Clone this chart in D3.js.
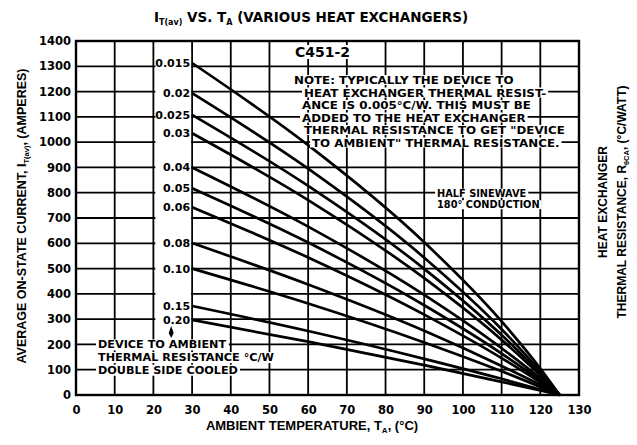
<!DOCTYPE html>
<html><head><meta charset="utf-8">
<script src="https://cdn.jsdelivr.net/npm/d3@7"></script>
<style>body{margin:0;background:#fff}svg{display:block}</style>
</head><body>
<svg id="c" width="637" height="445"></svg>
<script>
// ambient temperature sample points (°C)
const temperatures = [30, 60, 90, 110, 120, 125];
// heat exchanger thermal resistance (°C/W) labels
const resistanceLabels = ["0.015","0.02","0.025","0.03","0.04","0.05","0.06","0.08","0.10","0.15","0.20"];
// average on-state current (A) for each resistance at the temperatures above
const current015 = [1313, 988, 604, 291, 105, 0];
const current020 = [1194, 895, 543, 260, 93, 0];
const current025 = [1108, 827, 499, 237, 85, 0];
const current030 = [1035, 771, 462, 218, 77, 0];
const current040 = [900, 666, 396, 185, 65, 0];
const current050 = [818, 603, 355, 164, 57, 0];
const current060 = [743, 544, 318, 146, 50, 0];
const current080 = [601, 437, 254, 115, 40, 0];
const current100 = [500, 362, 208, 94, 32, 0];
const current150 = [352, 253, 143, 64, 22, 0];
const current200 = [297, 211, 118, 52, 18, 0];
const seriesValues = [current015,current020,current025,current030,current040,current050,current060,current080,current100,current150,current200];
const xTickValues = [0,10,20,30,40,50,60,70,80,90,100,110,120,130];
const yTickValues = [0,100,200,300,400,500,600,700,800,900,1000,1100,1200,1300,1400];

const noteLines = [
  "NOTE: TYPICALLY THE DEVICE TO",
  "HEAT EXCHANGER THERMAL RESIST-",
  "ANCE IS 0.005°C/W.  THIS MUST BE",
  "ADDED TO THE HEAT EXCHANGER",
  "THERMAL RESISTANCE TO GET \"DEVICE",
  "TO AMBIENT\" THERMAL RESISTANCE."
];
const noteIndent = [0, 10, 8, 8, 10, 18];
const conductionLines = ["HALF SINEWAVE", "180° CONDUCTION"];
const deviceLines = ["DEVICE TO AMBIENT", "THERMAL RESISTANCE °C/W", "DOUBLE SIDE COOLED"];
const deviceLineLevels = [200, 150, 100];

const svg = d3.select("#c");
const M = {l: 76, r: 579, t: 41, b: 395};
const x = d3.scaleLinear().domain([0, 130]).range([M.l, M.r]);
const y = d3.scaleLinear().domain([0, 1400]).range([M.b, M.t]);
const BOLD = "'DejaVu Sans', sans-serif";
const PLAIN = "'Liberation Sans', Arial, sans-serif";

// grid
const grid = svg.append("g").attr("stroke", "#000").attr("stroke-width", 1.8);
grid.selectAll("line.v").data(xTickValues).join("line").attr("class","v")
  .attr("x1", d => x(d)).attr("x2", d => x(d)).attr("y1", M.t).attr("y2", M.b);
grid.selectAll("line.h").data(yTickValues).join("line").attr("class","h")
  .attr("x1", M.l).attr("x2", M.r).attr("y1", d => y(d)).attr("y2", d => y(d));

// white column behind resistance labels
svg.append("rect").attr("x", x(20) + 2).attr("width", x(30) - x(20) - 3)
  .attr("y", y(1360)).attr("height", y(230) - y(1360)).attr("fill", "#fff");

// frame
svg.append("rect").attr("x", M.l).attr("y", M.t).attr("width", M.r - M.l).attr("height", M.b - M.t)
  .attr("fill", "none").attr("stroke", "#000").attr("stroke-width", 2.4);

// axes
const gy = svg.append("g").attr("transform", `translate(${M.l},0)`)
  .call(d3.axisLeft(y).tickValues(yTickValues).tickSize(0).tickPadding(5).tickFormat(d3.format("d")));
gy.select(".domain").remove();
gy.selectAll("text").attr("font-family", BOLD).attr("font-weight", "bold").attr("font-size", 11.5).attr("fill","#000");

const gx = svg.append("g").attr("transform", `translate(0,${M.b})`)
  .call(d3.axisBottom(x).tickValues(xTickValues).tickSize(0).tickPadding(11).tickFormat(d3.format("d")));
gx.select(".domain").remove();
gx.selectAll("text").attr("font-family", BOLD).attr("font-weight", "bold").attr("font-size", 11.5).attr("fill","#000");

// curves
const data = seriesValues.map((vals, i) => ({label: resistanceLabels[i], pts: vals.map((v, j) => ({t: temperatures[j], v}))}));
const line = d3.line().x(d => x(d.t)).y(d => y(d.v)).curve(d3.curveMonotoneX);
svg.append("g").selectAll("path").data(data).join("path")
  .attr("d", d => line(d.pts)).attr("fill", "none").attr("stroke", "#000").attr("stroke-width", 2.7);

// resistance labels
svg.append("g").selectAll("text").data(data).join("text")
  .attr("x", x(30) - 2).attr("y", d => y(d.pts[0].v)).attr("dy", "0.36em")
  .attr("text-anchor", "end").attr("font-family", BOLD).attr("font-weight", "bold").attr("font-size", 11)
  .text(d => d.label);

// small arrow below 0.20
const ax = x(24.6), ay = y(245);
svg.append("path").attr("d", `M${ax},${ay-7}L${ax+2.5},${ay}L${ax},${ay+5}L${ax-2.5},${ay}Z`).attr("fill", "#000");

// white boxes behind annotation text
function boxed(textSel, padX, padY){
  textSel.each(function(){
    const b = this.getBBox();
    d3.select(this.parentNode).insert("rect", () => this)
      .attr("x", b.x - padX).attr("y", b.y + padY).attr("width", b.width + 2*padX).attr("height", b.height - 2*padY)
      .attr("fill", "#fff");
  });
  return textSel;
}
// widen glyphs horizontally (condensed-height, wide lettering like the original)
function widen(textSel, factor){
  textSel.each(function(){
    const len = this.getComputedTextLength();
    d3.select(this).attr("textLength", len * factor).attr("lengthAdjust", "spacingAndGlyphs");
  });
  return textSel;
}

const ann = svg.append("g");
// part number
boxed(ann.append("text").attr("x", 295).attr("y", 57).attr("font-family", BOLD).attr("font-weight","bold").attr("font-size", 14).text("C451-2"), 2, 1);

// note
boxed(widen(ann.append("g").selectAll("text").data(noteLines).join("text")
  .attr("x", (d,i) => 294 + noteIndent[i]).attr("y", (d,i) => 84 + i*12.5)
  .attr("font-family", BOLD).attr("font-weight","bold").attr("font-size", 10.6)
  .text(d => d), 1.12), 2, 1);

// half sinewave
boxed(ann.append("g").selectAll("text").data(conductionLines).join("text")
  .attr("x", 437).attr("y", (d,i) => y(800) + 4 + i*11.5)
  .attr("font-family", BOLD).attr("font-weight","bold").attr("font-size", 9.8)
  .text(d => d), 2, 1);

// device to ambient
boxed(widen(ann.append("g").selectAll("text").data(deviceLines).join("text")
  .attr("x", 98).attr("y", (d,i) => y(deviceLineLevels[i]) + 4)
  .attr("font-family", BOLD).attr("font-weight","bold").attr("font-size", 10.8)
  .text(d => d), 1.04), 2, 1);

// title
const title = svg.append("text").attr("x", 311).attr("y", 22).attr("text-anchor","middle")
  .attr("font-family", BOLD).attr("font-weight","bold").attr("font-size", 13.5);
title.append("tspan").text("I");
title.append("tspan").attr("font-size", 8).attr("dy", 3).text("T(av)");
title.append("tspan").attr("dy", -3).text(" VS. T");
title.append("tspan").attr("font-size", 8).attr("dy", 3).text("A");
title.append("tspan").attr("dy", -3).text(" (VARIOUS HEAT EXCHANGERS)");

// x title
const xt = svg.append("text").attr("x", 312).attr("y", 430).attr("text-anchor","middle")
  .attr("font-family", PLAIN).attr("font-weight","bold").attr("font-size", 13);
xt.append("tspan").text("AMBIENT TEMPERATURE, T");
xt.append("tspan").attr("font-size", 8).attr("dy", 3).text("A");
xt.append("tspan").attr("dy", -3).text(", (°C)");

// y title
const yt = svg.append("text").attr("transform", "translate(26,216) rotate(-90)").attr("text-anchor","middle")
  .attr("font-family", PLAIN).attr("font-weight","bold").attr("font-size", 12.5);
yt.append("tspan").text("AVERAGE ON-STATE CURRENT, I");
yt.append("tspan").attr("font-size", 7.5).attr("dy", 3).text("T(av)");
yt.append("tspan").attr("dy", -3).text(", (AMPERES)");

// right titles
svg.append("text").attr("transform", "translate(607,202) rotate(-90)").attr("text-anchor","middle")
  .attr("font-family", PLAIN).attr("font-weight","bold").attr("font-size", 12).text("HEAT EXCHANGER");
const rt = svg.append("text").attr("transform", "translate(626,202) rotate(-90)").attr("text-anchor","middle")
  .attr("font-family", PLAIN).attr("font-weight","bold").attr("font-size", 12);
rt.append("tspan").text("THERMAL RESISTANCE, R");
rt.append("tspan").attr("font-size", 7.5).attr("dy", 3).text("θCA");
rt.append("tspan").attr("dy", -3).text(", (°C/WATT)");
</script>
</body></html>
